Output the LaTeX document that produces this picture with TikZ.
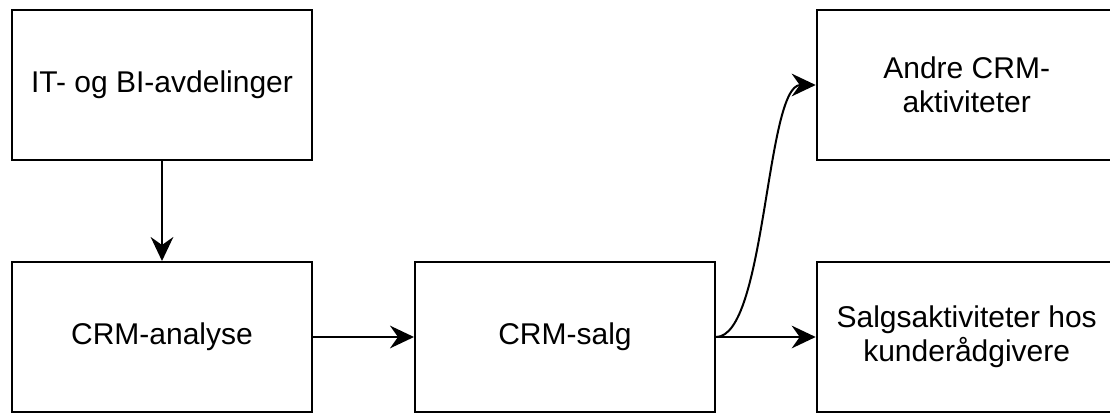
\documentclass[tikz,border=0pt]{standalone}
\usepackage{fontspec}
\setmainfont{Liberation Sans}
\usetikzlibrary{arrows.meta}
\begin{document}
\begin{tikzpicture}[x=0.75pt,y=-0.75pt,
  box/.style={draw=black, line width=1.5pt, minimum width=225pt, minimum height=112.5pt,
    inner sep=0pt, align=center, font=\fontsize{22.5}{25.5}\selectfont},
  conn/.style={line width=1.5pt, -{Stealth[length=18pt,width=17pt,inset=6pt]}}]
\clip (0,0) rectangle (1110,414);
\node[box] (it) at (162,85) {IT- og BI-avdelinger};
\node[box] (ana) at (162,337) {CRM-analyse};
\node[box] (salg) at (565,337) {CRM-salg};
\node[box] (andre) at (966.7,85) {Andre CRM-\\aktiviteter};
\node[box] (kund) at (966.7,337) {Salgsaktiviteter hos\\kunderådgivere};
\draw[conn] (it) -- (ana);
\draw[conn] (ana) -- (salg);
\draw[conn] (salg) -- (kund);
\draw[conn] (salg.east) .. controls ([xshift=37.5pt]salg.east) and ([xshift=-37.5pt]andre.west) .. (andre.west);
\end{tikzpicture}
\end{document}
